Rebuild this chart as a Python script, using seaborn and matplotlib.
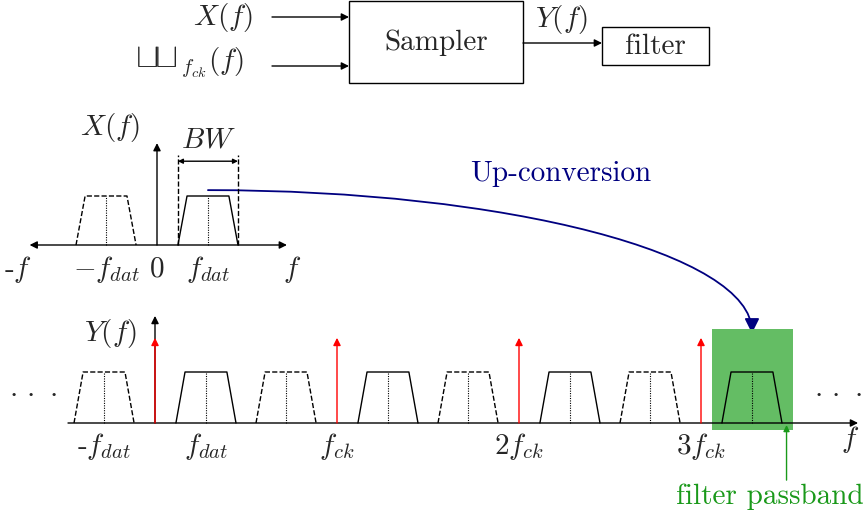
import matplotlib
matplotlib.use('Agg')
import matplotlib.pyplot as plt
import seaborn as sns
import pandas as pd
from matplotlib.patches import FancyArrowPatch, Rectangle
from matplotlib.path import Path

# frequencies in units of f_ck, amplitudes in units of the band height
harmonics = [0, 1, 2, 3]
harmonic_labels = ['', r'$f_{ck}$', r'$2f_{ck}$', r'$3f_{ck}$']
f_dat = 0.28
band_x = [-0.165, -0.115, 0.115, 0.165]   # trapezoid shape of one band
band_y = [0, 1, 1, 0]
spike_height = 1.67
passband = [3.06, 3.505]
passband_height = [-0.14, 1.84]

W, H = 866, 523
sns.set_theme(style='white')
plt.rcParams['font.family'] = ['cmr10', 'DejaVu Sans']
plt.rcParams['mathtext.fontset'] = 'cm'
FS = 21
NAVY = '#000080'
GREEN = '#1a991a'

fig = plt.figure(figsize=(W / 100, H / 100), dpi=100)


def make_axes(x0, y0, sx, sy):
    # full-figure axes whose origin sits at pixel (x0, y0)
    ax = fig.add_axes([0, 0, 1, 1])
    ax.set_xlim(-x0 / sx, (W - x0) / sx)
    ax.set_ylim(-(H - y0) / sy, y0 / sy)
    ax.axis('off')
    ax.patch.set_alpha(0)
    return ax


def arrow(ax, p0, p1, style='-|>', color='black', lw=1.0, ms=11, z=3):
    ax.add_patch(FancyArrowPatch(p0, p1, arrowstyle=style, color=color, lw=lw,
                                 mutation_scale=ms, shrinkA=0, shrinkB=0, zorder=z))


def band(ax, center, dashed):
    df = pd.DataFrame({'x': [center + v for v in band_x], 'y': band_y})
    sns.lineplot(data=df, x='x', y='y', ax=ax, sort=False, estimator=None, color='black',
                 lw=1.0, linestyle='--' if dashed else '-', dashes=False, legend=False)
    ax.plot([center, center], [0, 1], color='black', lw=0.8, linestyle=(0, (1, 1.2)))


def dots(ax, x, y):
    ax.text(x, y, r'$\cdot\,\cdot\,\cdot$', ha='center', va='center', fontsize=FS)


# ---------- block diagram (pixel axes) ----------
ax0 = fig.add_axes([0, 0, 1, 1])
ax0.set_xlim(0, W)
ax0.set_ylim(H, 0)
ax0.axis('off')
ax0.patch.set_alpha(0)

ax0.add_patch(Rectangle((349, 1), 174, 82, fill=False, ec='black', lw=1.0))
ax0.add_patch(Rectangle((602, 27), 107, 38, fill=False, ec='black', lw=1.0))
ax0.text(436, 43, 'Sampler', ha='center', va='center', fontsize=FS)
ax0.text(655, 47, 'filter', ha='center', va='center', fontsize=FS)
arrow(ax0, (272, 17), (349, 17))
arrow(ax0, (272, 66), (349, 66))
arrow(ax0, (523, 43), (602, 43))
ax0.text(253, 17, r'$X(f)$', ha='right', va='center', fontsize=FS)
ax0.text(177, 67, r'$\sqcup\!\!\sqcup$', ha='right', va='baseline', fontsize=25)
ax0.text(180, 63, r'${}_{f_{ck}}(f)$', ha='left', va='center', fontsize=FS)
ax0.text(561, 19, r'$Y(f)$', ha='center', va='center', fontsize=FS)

# ---------- input spectrum X(f) ----------
axt = make_axes(157, 245, 182, 49)
arrow(axt, (-0.70, 0), (0.714, 0), style='<|-|>')
arrow(axt, (0, 0), (0, 2.08))
band(axt, -f_dat, True)
band(axt, f_dat, False)
for s in (-1, 1):
    axt.plot([f_dat + s * band_x[3]] * 2, [0, 1.84], color='black', lw=1.0, linestyle='--')
arrow(axt, (f_dat + band_x[0], 1.71), (f_dat + band_x[3], 1.71), style='<|-|>', ms=7)
axt.text(f_dat, 2.14, r'$BW$', ha='center', va='center', fontsize=FS)
axt.text(-0.258, 2.39, r'$X(f)$', ha='center', va='center', fontsize=FS)
for x, lab in zip([-0.764, -f_dat, 0, f_dat, 0.742],
                  [r'-$f$', r'$-f_{dat}$', r'$0$', r'$f_{dat}$', r'$f$']):
    axt.text(x, -0.5, lab, ha='center', va='center', fontsize=FS)

# ---------- sampled spectrum Y(f) ----------
axb = make_axes(155, 423, 182, 51)
axb.add_patch(Rectangle((passband[0], passband_height[0]), passband[1] - passband[0],
                        passband_height[1] - passband_height[0], color='#64bd64', lw=0, zorder=1))
arrow(axb, (-0.478, 0), (3.863, 0))
arrow(axb, (0, 0), (0, 2.1))
for k in harmonics:
    band(axb, k - f_dat, True)
    band(axb, k + f_dat, False)
    arrow(axb, (k, 0), (k, spike_height), color='red', z=4)
for k, lab in zip(harmonics, harmonic_labels):
    if lab:
        axb.text(k, -0.47, lab, ha='center', va='center', fontsize=FS)
axb.text(-f_dat, -0.47, r'-$f_{dat}$', ha='center', va='center', fontsize=FS)
axb.text(f_dat, -0.47, r'$f_{dat}$', ha='center', va='center', fontsize=FS)
axb.text(3.82, -0.33, r'$f$', ha='center', va='center', fontsize=FS)
axb.text(-0.247, 1.76, r'$Y(f)$', ha='center', va='center', fontsize=FS)
dots(axb, -0.67, 0.6)
dots(axb, 3.753, 0.6)
arrow(axb, (3.47, -1.12), (3.47, -0.04), color=GREEN, ms=9)
axb.text(3.38, -1.45, 'filter passband', ha='center', va='center', fontsize=FS, color=GREEN)

# ---------- up-conversion curve ----------
to_px = ax0.transData.inverted()
x0, y0 = to_px.transform(axt.transData.transform((f_dat, 1.12)))
x1, y1 = to_px.transform(axb.transData.transform((3 + f_dat, 1.76)))
k = 0.5523
verts = [(x0, y0), (x0 + k * (x1 - x0), y0), (x1, y1 - k * (y1 - y0)), (x1, y1)]
curve = Path(verts, [Path.MOVETO, Path.CURVE4, Path.CURVE4, Path.CURVE4])
ax0.add_patch(FancyArrowPatch(path=curve, arrowstyle='-|>', color=NAVY, lw=1.3,
                              mutation_scale=22, zorder=5))
ax0.text(561, 174, 'Up-conversion', ha='center', va='center', fontsize=FS, color=NAVY)

fig.savefig('out.png', dpi=100)
